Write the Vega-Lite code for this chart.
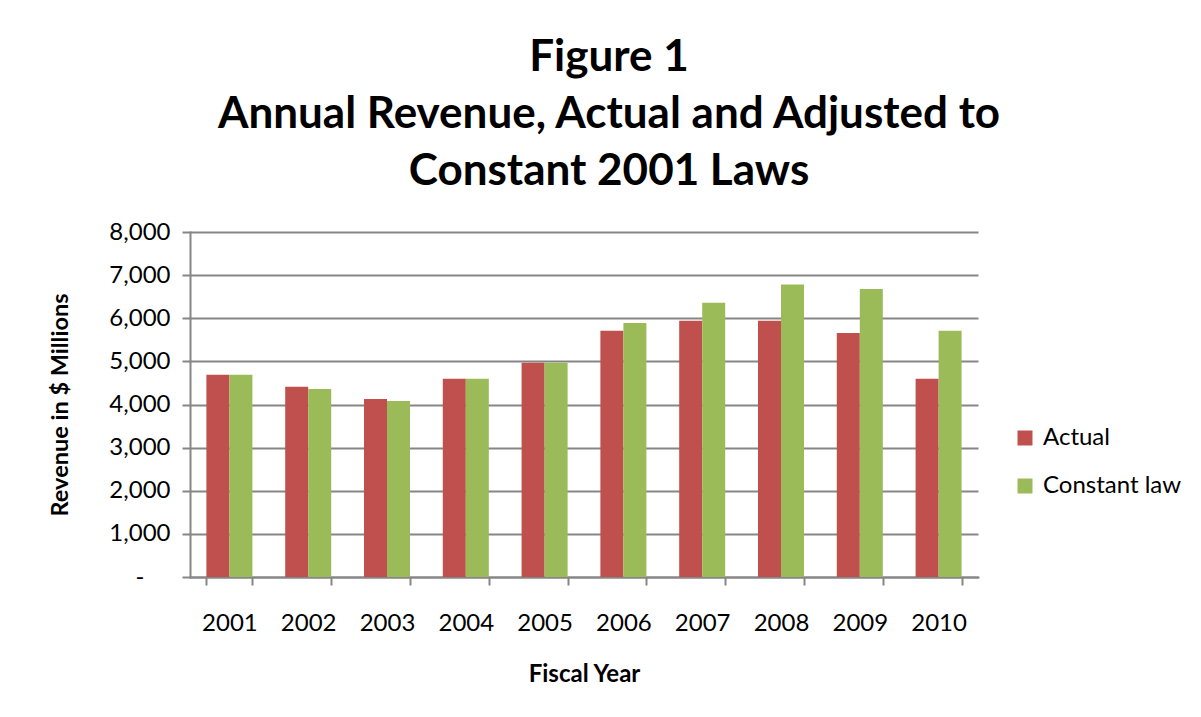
{
  "$schema": "https://vega.github.io/schema/vega-lite/v6.json",
  "autosize": {"type": "none"},
  "width": 788,
  "height": 345,
  "padding": {"left": 190, "top": 232, "right": 223, "bottom": 140},
  "background": "white",
  "title": {
    "text": ["Figure 1", "Annual Revenue, Actual and Adjusted to", "Constant 2001 Laws"],
    "font": "Lato",
    "fontSize": 44,
    "fontWeight": "bold",
    "color": "black",
    "lineHeight": 57,
    "anchor": "middle",
    "frame": "group",
    "dx": 25,
    "offset": 26
  },
  "data": {
    "values": [
      {"year": "2001", "series": "Actual", "value": 4690},
      {"year": "2001", "series": "Constant law", "value": 4690},
      {"year": "2002", "series": "Actual", "value": 4410},
      {"year": "2002", "series": "Constant law", "value": 4360},
      {"year": "2003", "series": "Actual", "value": 4130},
      {"year": "2003", "series": "Constant law", "value": 4080},
      {"year": "2004", "series": "Actual", "value": 4600},
      {"year": "2004", "series": "Constant law", "value": 4600},
      {"year": "2005", "series": "Actual", "value": 4970},
      {"year": "2005", "series": "Constant law", "value": 4970},
      {"year": "2006", "series": "Actual", "value": 5710},
      {"year": "2006", "series": "Constant law", "value": 5890},
      {"year": "2007", "series": "Actual", "value": 5940},
      {"year": "2007", "series": "Constant law", "value": 6360},
      {"year": "2008", "series": "Actual", "value": 5940},
      {"year": "2008", "series": "Constant law", "value": 6780},
      {"year": "2009", "series": "Actual", "value": 5660},
      {"year": "2009", "series": "Constant law", "value": 6680},
      {"year": "2010", "series": "Actual", "value": 4600},
      {"year": "2010", "series": "Constant law", "value": 5710}
    ]
  },
  "mark": {"type": "bar"},
  "encoding": {
    "x": {
      "field": "year",
      "type": "nominal",
      "scale": {"paddingInner": 0.416, "paddingOuter": 0.208},
      "axis": {
        "title": "Fiscal Year",
        "labelAngle": 0,
        "tickBand": "extent",
        "tickSize": 8,
        "tickColor": "#868686",
        "tickWidth": 2,
        "domainColor": "#868686",
        "domainWidth": 2,
        "labelFont": "Lato",
        "labelFontSize": 24,
        "labelColor": "black",
        "labelPadding": 26,
        "titleFont": "Lato",
        "titleFontSize": 24,
        "titleFontWeight": "bold",
        "titleColor": "black",
        "titlePadding": 27
      }
    },
    "xOffset": {"field": "series", "type": "nominal", "scale": {"paddingInner": 0, "paddingOuter": 0}},
    "y": {
      "field": "value",
      "type": "quantitative",
      "scale": {"domain": [0, 8000]},
      "axis": {
        "title": "Revenue in $ Millions",
        "values": [0, 1000, 2000, 3000, 4000, 5000, 6000, 7000, 8000],
        "labelExpr": "datum.value == 0 ? '-' : format(datum.value, ',')",
        "tickSize": 8,
        "tickColor": "#868686",
        "tickWidth": 2,
        "domainColor": "#868686",
        "domainWidth": 2,
        "gridColor": "#868686",
        "gridWidth": 2,
        "labelFont": "Lato",
        "labelFontSize": 24,
        "labelColor": "black",
        "labelPadding": {"condition": {"test": "datum.value == 0", "value": 38}, "value": 12},
        "titleFont": "Lato",
        "titleFontSize": 23.5,
        "titleFontWeight": "bold",
        "titleColor": "black",
        "titlePadding": 36
      }
    },
    "color": {
      "field": "series",
      "type": "nominal",
      "scale": {"domain": ["Actual", "Constant law"], "range": ["#C0504D", "#9BBB59"]},
      "legend": {
        "title": null,
        "orient": "none",
        "legendX": 823,
        "legendY": 194,
        "symbolType": "square",
        "symbolSize": 225,
        "symbolStrokeWidth": 0,
        "labelFont": "Lato",
        "labelFontSize": 24,
        "labelColor": "black",
        "labelOffset": 6,
        "rowPadding": 24,
        "padding": 0
      }
    }
  },
  "config": {
    "view": {"stroke": null},
    "axis": {"gridDash": [], "domainCap": "square"}
  }
}
